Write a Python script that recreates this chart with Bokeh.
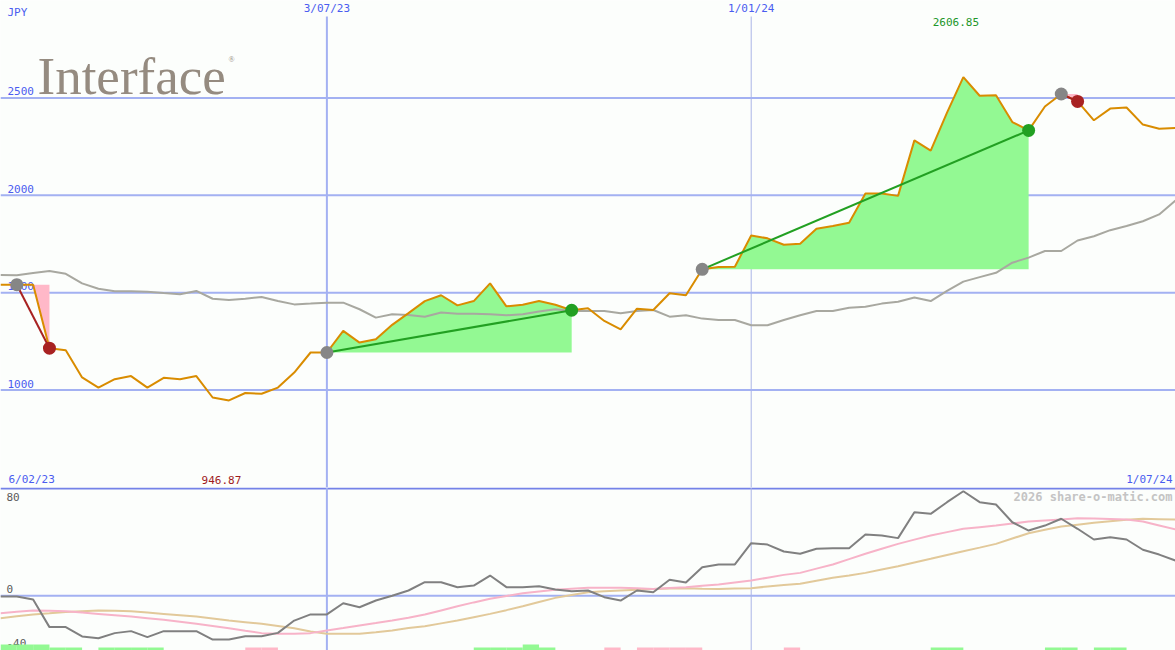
import pandas as pd
from bokeh.plotting import figure
from bokeh.layouts import column
from bokeh.models import Span, Range1d
from bokeh.core.properties import value
from bokeh.embed import file_html
from bokeh.resources import INLINE

# ---------------- data ----------------
dates = pd.date_range("2023-02-13", periods=73, freq="7D")

price = [1541, 1541, 1541, 1215, 1205, 1065, 1013, 1056, 1072, 1013,
         1063, 1056, 1072, 962, 946.87, 985, 981, 1013, 1090, 1193,
         1193, 1304, 1244, 1261, 1335, 1395, 1457, 1487, 1435, 1457,
         1548, 1430, 1438, 1457, 1438, 1410, 1420, 1355, 1312, 1418,
         1411, 1497, 1487, 1620, 1632, 1633, 1794, 1779, 1746, 1751,
         1828, 1842, 1859, 2009, 2009, 1997, 2282, 2229, 2424, 2606.85,
         2511, 2514, 2376, 2333, 2456, 2520, 2482, 2385, 2445, 2451,
         2363, 2342, 2345]

moving_avg = [1591, 1589, 1601, 1611, 1597, 1548, 1520, 1507, 1507, 1505,
              1498, 1492, 1509, 1469, 1463, 1469, 1478, 1457, 1440, 1444,
              1449, 1449, 1415, 1372, 1389, 1386, 1377, 1398, 1392, 1392,
              1389, 1384, 1389, 1403, 1415, 1406, 1406, 1406, 1394, 1406,
              1411, 1377, 1384, 1367, 1360, 1360, 1333, 1333, 1360, 1384,
              1406, 1406, 1423, 1428, 1444, 1454, 1475, 1457, 1509, 1557,
              1580, 1602, 1654, 1680, 1714, 1714, 1768, 1790, 1821, 1842,
              1867, 1902, 1973]

osc_main = [-0.6, -0.6, -2.8, -23.5, -23.5, -30.5, -31.8, -28, -26.5, -31,
            -26.5, -26.5, -26.5, -32.8, -32.8, -30.3, -30.3, -27.8, -18.6, -14,
            -14, -5.6, -8.6, -3.6, 0, 3.9, 10.1, 10.1, 6.4, 7.6,
            15.1, 6.4, 6.4, 7.1, 4.6, 3.4, 3.9, -1.1, -3.6, 3.9,
            2.6, 11.9, 9.9, 21.3, 23.4, 23.4, 39.3, 38.3, 33.1, 31.4,
            35.1, 35.6, 35.6, 45.8, 45.1, 43.1, 62.5, 61.3, 70, 78.2,
            70, 68.3, 55, 48.8, 52.5, 57.6, 50.1, 42.1, 43.8, 42.1,
            34.4, 30.8, 26.3]

osc_fast = [-13.1, -12, -11.1, -11.3, -11.6, -12.6, -13.6, -14.6, -15.6, -16.8,
            -18, -19.5, -21, -22.6, -24.3, -26.2, -28, -28.5, -28.5, -28,
            -26, -24.2, -22.3, -20.5, -18.6, -16.5, -14.1, -11, -7.9, -5,
            -2.3, -0.2, 1.9, 3.2, 4.4, 5.2, 5.9, 5.9, 5.9, 5.5,
            5.1, 5.8, 6.4, 7.4, 8.4, 9.9, 11.4, 13.5, 15.6, 17.1,
            20.3, 23.4, 27.4, 31.4, 35.1, 38.8, 42, 45.1, 47.6, 50.1,
            51.3, 52.5, 54, 55.5, 56.3, 57, 58, 57.8, 57.5, 57,
            55.6, 52.6, 49.6]

osc_slow = [-16.8, -15.4, -14.1, -13.2, -12.2, -11.6, -11.1, -11.3, -11.6, -12.6,
            -13.6, -14.6, -15.6, -17.1, -18.6, -19.8, -21, -22.6, -24.3, -26.8,
            -28.5, -28.5, -28.5, -27.3, -26, -24.2, -22.8, -20.7, -18.6, -16.1,
            -13.6, -10.8, -7.9, -4.7, -1.6, 0.5, 2.6, 3.3, 3.9, 4.5,
            5.1, 5.4, 5.6, 5.3, 5.1, 5.4, 5.6, 6.9, 8.1, 8.9,
            11.2, 13.4, 15.2, 17.1, 19.6, 22.1, 24.9, 27.6, 30.5, 33.3,
            36, 38.8, 42.8, 46.8, 49.3, 51.8, 53.2, 54.6, 55.7, 56.8,
            57.6, 57.3, 57]

signal = [2, 2, 2, 1, 1, 0, 1, 1, 1, 1,
          0, 0, 0, 0, 0, -1, -1, 0, 0, 0,
          0, 0, 0, 0, 0, 0, 0, 0, 0, 1,
          1, 1, 2, 1, 0, 0, 0, -1, 0, -1,
          -1, -1, -1, 0, 0, 0, 0, 0, -1, 0,
          0, 0, 0, 0, 0, 0, 0, 1, 1, 0,
          0, 0, 0, 0, 1, 1, 0, 1, 1, 0,
          0, 0, 0]

buy_idx = [1, 20, 43, 65]
sell_idx = [3, 35, 63, 66]

price_ticks = [1000, 1500, 2000, 2500]
osc_ticks = [80, 0, -40]
mark_dates = [pd.Timestamp("2023-07-03"), pd.Timestamp("2024-01-01")]
mark_labels = ["3/07/23", "1/01/24"]
mark_widths = [2, 1]
start_label = "6/02/23"
end_label = "1/07/24"
currency = "JPY"
logo_text = "Interface"
watermark = "2026 share-o-matic.com"

# ---------------- style ----------------
W, H_TOP, H_BOT = 1175, 487, 163
REF_W, REF_TOP, REF_BOT = 1175, 487, 163
BG = "#fcfefc"
GRID = "#a3b1f2"
GRID_THIN = "#aab4e6"
SEP = "#7482e8"
BLUE_TXT = "#4a5cf0"
ORANGE = "#d98c00"
MA_GREY = "#a8a8a0"
GREEN_FILL = "#93f993"
PINK_FILL = "#ffb8c8"
GREEN = "#22a022"
RED = "#a82222"
MONO = value("DejaVu Sans Mono")

Y0, Y1 = 500, 3000
B0, B1 = -41, 81
t0, t1 = dates[0], dates[-1]


def xpx(px):
    return t0 + (t1 - t0) * (px / REF_W)


def ytop(py):
    return Y1 - (Y1 - Y0) * py / REF_TOP


def ybot(py):
    return B1 - (B1 - B0) * (py - REF_TOP) / REF_BOT


top_upp = (Y1 - Y0) / REF_TOP
bot_upp = (B1 - B0) / REF_BOT

# ---------------- top panel ----------------
p = figure(width=W, height=H_TOP, x_axis_type="datetime",
           x_range=Range1d(t0, t1), y_range=Range1d(Y0, Y1),
           x_axis_location=None, y_axis_location=None,
           output_backend="svg", toolbar_location=None, min_border=0,
           background_fill_color=BG, border_fill_color=BG, outline_line_color=None)
p.grid.visible = False

for t in price_ticks:
    p.add_layout(Span(location=t, dimension="width", line_color=GRID, line_width=2, level="underlay"))
for d, w in zip(mark_dates, mark_widths):
    p.segment(x0=[d], x1=[d], y0=[Y0], y1=[ytop(16)], line_color=GRID if w == 2 else GRID_THIN,
              line_width=w, level="underlay")

# axis texts
p.text(x=[xpx(7)] * len(price_ticks), y=[t + 6.5 * top_upp for t in price_ticks],
       text=[str(t) for t in price_ticks], text_font=MONO, text_font_size="11px",
       text_color=BLUE_TXT, text_align="left", text_baseline="middle")
p.text(x=[xpx(7)], y=[ytop(12)], text=[currency], text_font=MONO, text_font_size="11px",
       text_color=BLUE_TXT, text_align="left", text_baseline="middle")
p.text(x=mark_dates, y=[ytop(8)] * 2, text=mark_labels, text_font=MONO, text_font_size="11px",
       text_color=BLUE_TXT, text_align="center", text_baseline="middle")
p.text(x=[xpx(8)], y=[ytop(479)], text=[start_label], text_font=MONO, text_font_size="11px",
       text_color=BLUE_TXT, text_align="left", text_baseline="middle")
p.text(x=[xpx(1172)], y=[ytop(479)], text=[end_label], text_font=MONO, text_font_size="11px",
       text_color=BLUE_TXT, text_align="right", text_baseline="middle")

imax = max(range(len(price)), key=lambda i: price[i])
imin = min(range(len(price)), key=lambda i: price[i])
shift = (t1 - t0) * (7.5 / REF_W)
p.text(x=[dates[imax] - shift], y=[ytop(21)], text=[f"{price[imax]:.2f}"], text_font=MONO,
       text_font_size="11px", text_color="#22962a", text_align="center", text_baseline="middle")
p.text(x=[dates[imin] - shift], y=[ytop(479)], text=[f"{price[imin]:.2f}"], text_font=MONO,
       text_font_size="11px", text_color="#a01c1c", text_align="center", text_baseline="middle")

# logo
p.text(x=[xpx(37)], y=[ytop(75)], text=[logo_text], text_font=value("Liberation Serif"),
       text_font_size="53px", text_color="#958b80", text_align="left", text_baseline="alphabetic")
p.text(x=[xpx(228)], y=[ytop(59)], text=["\u00ae"], text_font=value("Liberation Serif"),
       text_font_size="8px", text_color="#958b80", text_align="left", text_baseline="middle")

# trade fills
for b, s in zip(buy_idx, sell_idx):
    entry = price[b]
    col = GREEN_FILL if price[s] > entry else PINK_FILL
    p.varea(x=list(dates[b:s + 1]), y1=[entry] * (s - b + 1), y2=price[b:s + 1], fill_color=col)

p.line(dates, moving_avg, line_color=MA_GREY, line_width=2)
p.line(dates, price, line_color=ORANGE, line_width=2)

for b, s in zip(buy_idx, sell_idx):
    col = GREEN if price[s] > price[b] else RED
    p.segment(x0=[dates[b]], y0=[price[b]], x1=[dates[s]], y1=[price[s]], line_color=col, line_width=2)

p.scatter([dates[b] for b in buy_idx], [price[b] for b in buy_idx], size=13,
          fill_color="#868686", line_color=None)
p.scatter([dates[s] for s in sell_idx], [price[s] for s in sell_idx], size=13,
          fill_color=[GREEN if price[s] > price[b] else RED for b, s in zip(buy_idx, sell_idx)],
          line_color=None)

# ---------------- bottom panel ----------------
q = figure(width=W, height=H_BOT, x_axis_type="datetime",
           x_range=p.x_range, y_range=Range1d(B0, B1),
           x_axis_location=None, y_axis_location=None,
           output_backend="svg", toolbar_location=None, min_border=0,
           background_fill_color=BG, border_fill_color=BG, outline_line_color=None)
q.grid.visible = False

q.add_layout(Span(location=0, dimension="width", line_color=GRID, line_width=2, level="underlay"))
q.add_layout(Span(location=ybot(488), dimension="width", line_color=SEP, line_width=2, level="underlay"))
for d, w in zip(mark_dates, mark_widths):
    q.add_layout(Span(location=d, dimension="height", line_color=GRID if w == 2 else GRID_THIN,
                      line_width=w, level="underlay"))

q.text(x=[xpx(6)] * len(osc_ticks),
       y=[min(t + 6.5 * bot_upp, ybot(496)) for t in osc_ticks],
       text=[str(t) for t in osc_ticks], text_font=MONO, text_font_size="11px",
       text_color="#5a5a5a", text_align="left", text_baseline="middle")
q.text(x=[xpx(1172)], y=[ybot(496)], text=[watermark], text_font=MONO, text_font_size="12px",
       text_font_style="bold", text_color="#c4c4c4", text_align="right", text_baseline="middle")

bar_unit = 3 * bot_upp
lefts, rights, tops, cols = [], [], [], []
for k in range(len(dates) - 1):
    if signal[k] != 0:
        lefts.append(dates[k])
        rights.append(dates[k + 1])
        tops.append(B0 + abs(signal[k]) * bar_unit)
        cols.append(GREEN_FILL if signal[k] > 0 else PINK_FILL)
q.quad(left=lefts, right=rights, bottom=[B0] * len(lefts), top=tops, fill_color=cols, line_color=None)

q.line(dates, osc_slow, line_color="#e2c99a", line_width=2)
q.line(dates, osc_fast, line_color="#f7b3c8", line_width=2)
q.line(dates, osc_main, line_color="#808080", line_width=2)

layout = column(p, q, spacing=0)
open("out.html", "w").write(file_html(layout, INLINE))
